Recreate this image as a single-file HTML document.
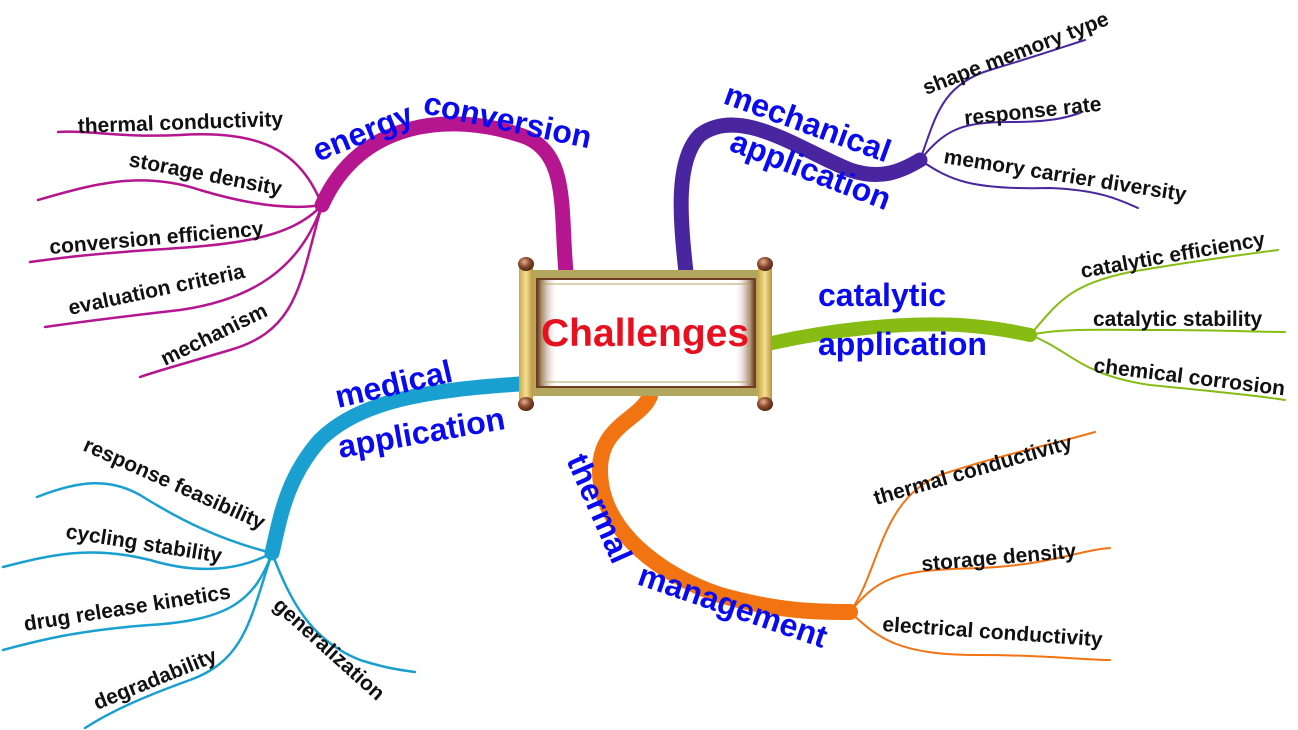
<!DOCTYPE html>
<html><head><meta charset="utf-8"><style>
html,body{margin:0;padding:0;background:#fff;width:1298px;height:730px;overflow:hidden}
svg text{font-family:"Liberation Sans",Arial,sans-serif;font-weight:bold}
.s{font-size:21px;fill:#111}
.b{font-size:32px;fill:#0a0af0}
</style></head><body>
<svg width="1298" height="730" viewBox="0 0 1298 730" xmlns="http://www.w3.org/2000/svg">
<defs>
<linearGradient id="rod" x1="0" x2="1"><stop offset="0" stop-color="#c9a84a"/><stop offset=".5" stop-color="#f3df93"/><stop offset="1" stop-color="#b8943a"/></linearGradient>
<radialGradient id="knob" cx=".4" cy=".35" r=".7"><stop offset="0" stop-color="#e8b090"/><stop offset=".5" stop-color="#8a4a30"/><stop offset="1" stop-color="#4a2010"/></radialGradient>
<linearGradient id="edgeL" x1="0" x2="1"><stop offset="0" stop-color="#7a4a2a"/><stop offset="1" stop-color="#fff" stop-opacity="0"/></linearGradient>
<linearGradient id="edgeR" x1="1" x2="0"><stop offset="0" stop-color="#7a4a2a"/><stop offset="1" stop-color="#fff" stop-opacity="0"/></linearGradient>
</defs>
<g fill="none" stroke-linecap="round">
<g stroke="#b5168f">
<path d="M566 272 C560 210 570 150 520 135 C450 112 360 120 322 205" stroke-width="15"/>
<path d="M322 205 C300 150 260 130 180 135 C120 138 90 130 58 132" stroke-width="2.5"/>
<path d="M322 205 C290 210 250 205 200 190 C140 170 90 185 38 200" stroke-width="2.5"/>
<path d="M322 205 C290 240 230 245 150 250 C90 254 60 258 30 262" stroke-width="2.5"/>
<path d="M322 205 C300 270 250 300 180 310 C110 318 80 322 45 327" stroke-width="2.5"/>
<path d="M322 205 C300 280 300 330 230 350 C190 362 160 370 140 377" stroke-width="2.5"/>
</g>
<g stroke="#4a25a0">
<path d="M686 272 C680 220 675 160 700 135 C740 105 800 150 850 170 C880 180 900 172 920 160" stroke-width="15"/>
<path d="M920 160 C935 120 940 85 990 70 C1040 55 1060 48 1085 40" stroke-width="2"/>
<path d="M920 160 C945 130 960 122 1010 122 C1050 122 1065 118 1080 113" stroke-width="2"/>
<path d="M920 160 C950 180 970 190 1050 188 C1100 190 1120 200 1138 208" stroke-width="2"/>
</g>
<g stroke="#86bc13">
<path d="M772 343 C830 330 900 322 960 325 C1000 328 1015 332 1030 335" stroke-width="14"/>
<path d="M1030 335 C1060 300 1070 285 1130 272 C1200 260 1240 255 1278 250" stroke-width="2"/>
<path d="M1030 335 C1060 328 1100 330 1160 330 C1220 330 1260 332 1285 332" stroke-width="2"/>
<path d="M1030 335 C1070 350 1080 375 1150 385 C1220 392 1260 396 1285 400" stroke-width="2"/>
</g>
<g stroke="#1aa0d0">
<path d="M520 384 C430 390 360 400 320 440 C285 480 280 520 272 553" stroke-width="15"/>
<path d="M272 553 C220 540 180 520 140 495 C110 478 80 480 37 497" stroke-width="2.5"/>
<path d="M272 553 C240 570 200 575 150 560 C90 545 50 555 3 567" stroke-width="2.5"/>
<path d="M272 553 C255 600 230 620 150 625 C80 630 40 640 3 650" stroke-width="2.5"/>
<path d="M272 553 C250 620 245 660 190 680 C140 698 110 712 85 728" stroke-width="2.5"/>
<path d="M272 553 C290 600 310 640 360 660 C385 668 400 670 415 672" stroke-width="2.5"/>
</g>
<g stroke="#f27312">
<path d="M650 396 C640 420 600 425 600 470 C600 530 660 575 720 595 C780 612 820 612 850 612" stroke-width="16"/>
<path d="M850 612 C880 570 880 500 940 475 C1000 455 1050 445 1095 432" stroke-width="2"/>
<path d="M850 612 C880 575 900 570 980 568 C1050 565 1080 550 1110 548" stroke-width="2"/>
<path d="M850 612 C880 640 900 655 980 655 C1050 655 1080 660 1110 660" stroke-width="2"/>
</g>
</g>
<rect x="530" y="270" width="232" height="126" fill="#b3a65f"/>
<rect x="536" y="278" width="220" height="110" fill="#6e3d22"/>
<rect x="538" y="280" width="216" height="106" fill="#fff"/>
<rect x="538" y="280" width="20" height="106" fill="url(#edgeL)"/>
<rect x="734" y="280" width="20" height="106" fill="url(#edgeR)"/>
<rect x="542" y="284" width="208" height="98" fill="none" stroke="#b3a65f" stroke-width="1"/>
<rect x="519" y="266" width="14" height="134" fill="url(#rod)"/>
<rect x="758" y="266" width="14" height="134" fill="url(#rod)"/>
<ellipse cx="526" cy="264" rx="8" ry="7" fill="url(#knob)"/><ellipse cx="526" cy="404" rx="8" ry="7" fill="url(#knob)"/>
<ellipse cx="765" cy="264" rx="8" ry="7" fill="url(#knob)"/><ellipse cx="765" cy="404" rx="8" ry="7" fill="url(#knob)"/>
<text x="645" y="346" text-anchor="middle" font-size="39" fill="#e8101e">Challenges</text>
<text class="b" transform="translate(318,162) rotate(-22)">energy</text>
<text class="b" transform="translate(422,113) rotate(12)">conversion</text>
<text class="b" transform="translate(722,103) rotate(20)">mechanical</text>
<text class="b" transform="translate(728,150) rotate(21)">application</text>
<text class="b" x="818" y="306">catalytic</text>
<text class="b" x="818" y="355">application</text>
<text class="b" transform="translate(338,408) rotate(-13)">medical</text>
<text class="b" transform="translate(340,458) rotate(-10)">application</text>
<text class="b" transform="translate(566,460) rotate(66)">thermal</text>
<text class="b" transform="translate(636,584) rotate(19)">management</text>
<text class="s" transform="translate(78,133) rotate(-2)">thermal conductivity</text>
<text class="s" transform="translate(128,166) rotate(11)">storage density</text>
<text class="s" transform="translate(50,254) rotate(-5)">conversion efficiency</text>
<text class="s" transform="translate(70,315) rotate(-12)">evaluation criteria</text>
<text class="s" transform="translate(165,366) rotate(-26)">mechanism</text>
<text class="s" transform="translate(926,95) rotate(-21)">shape memory type</text>
<text class="s" transform="translate(965,125) rotate(-6)">response rate</text>
<text class="s" transform="translate(943,163) rotate(9)">memory carrier diversity</text>
<text class="s" transform="translate(1082,278) rotate(-10)">catalytic efficiency</text>
<text class="s" x="1093" y="326">catalytic stability</text>
<text class="s" transform="translate(1093,372) rotate(7)">chemical corrosion</text>
<text class="s" transform="translate(876,505) rotate(-16)">thermal conductivity</text>
<text class="s" transform="translate(922,571) rotate(-5)">storage density</text>
<text class="s" transform="translate(882,631) rotate(4)">electrical conductivity</text>
<text class="s" transform="translate(82,450) rotate(24)">response feasibility</text>
<text class="s" transform="translate(65,538) rotate(9)">cycling stability</text>
<text class="s" transform="translate(25,631) rotate(-9)">drug release kinetics</text>
<text class="s" transform="translate(97,710) rotate(-22)">degradability</text>
<text class="s" transform="translate(272,607) rotate(42)">generalization</text>
</svg>
</body></html>
